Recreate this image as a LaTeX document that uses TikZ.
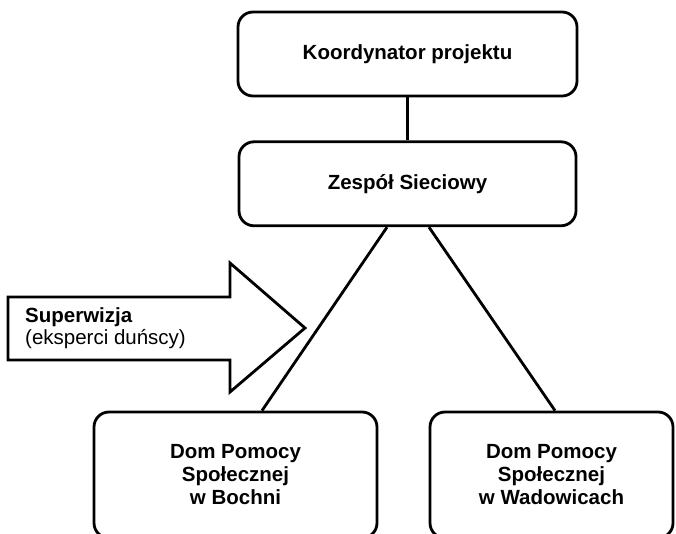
\documentclass[tikz,border=0pt]{standalone}
\usepackage{fontspec}
\setmainfont{Liberation Sans}
\usetikzlibrary{positioning}

\tikzset{
	box/.style={draw, line width=2.8pt, rounded corners=15pt, align=center,
		font=\fontsize{20.5}{23}\selectfont\bfseries},
	link/.style={line width=2.8pt}
}

\begin{document}
\begin{tikzpicture}[x=1pt, y=-1pt, node distance=43pt]
	\useasboundingbox (0,0) rectangle (676,534);
	\clip (0,0) rectangle (676,534);
	\node (koord) [box, minimum width=339pt, minimum height=84pt] at (407.5,54) {Koordynator projektu};
	\node (zespol) [box, minimum width=337pt, minimum height=84pt, below=of koord] {Zespół Sieciowy};
	\node (bochnia) [box, minimum width=283pt, minimum height=126pt] at (235.5,475) {Dom Pomocy\\Społecznej\\w Bochni};
	\node (wadowice) [box, minimum width=243pt, minimum height=126pt] at (551.5,475) {Dom Pomocy\\Społecznej\\w Wadowicach};
	\path [link]
		(koord.south) edge (zespol.north)
		([xshift=-20.5pt]zespol.south) edge ([xshift=26.5pt]bochnia.north)
		([xshift=21.5pt]zespol.south) edge ([xshift=3.5pt]wadowice.north)
	;
	% strzalka superwizji
	\draw [link] (8,297) -- (230,297) -- (230,263) -- (305,328) -- (230,392) -- (230,360) -- (8,360) -- cycle;
	\node (superwizja) [anchor=west, align=left, inner sep=0pt, font=\fontsize{20.5}{22}\selectfont] at (25,328.5)
		{\textbf{Superwizja}\\(eksperci duńscy)};
\end{tikzpicture}
\end{document}
